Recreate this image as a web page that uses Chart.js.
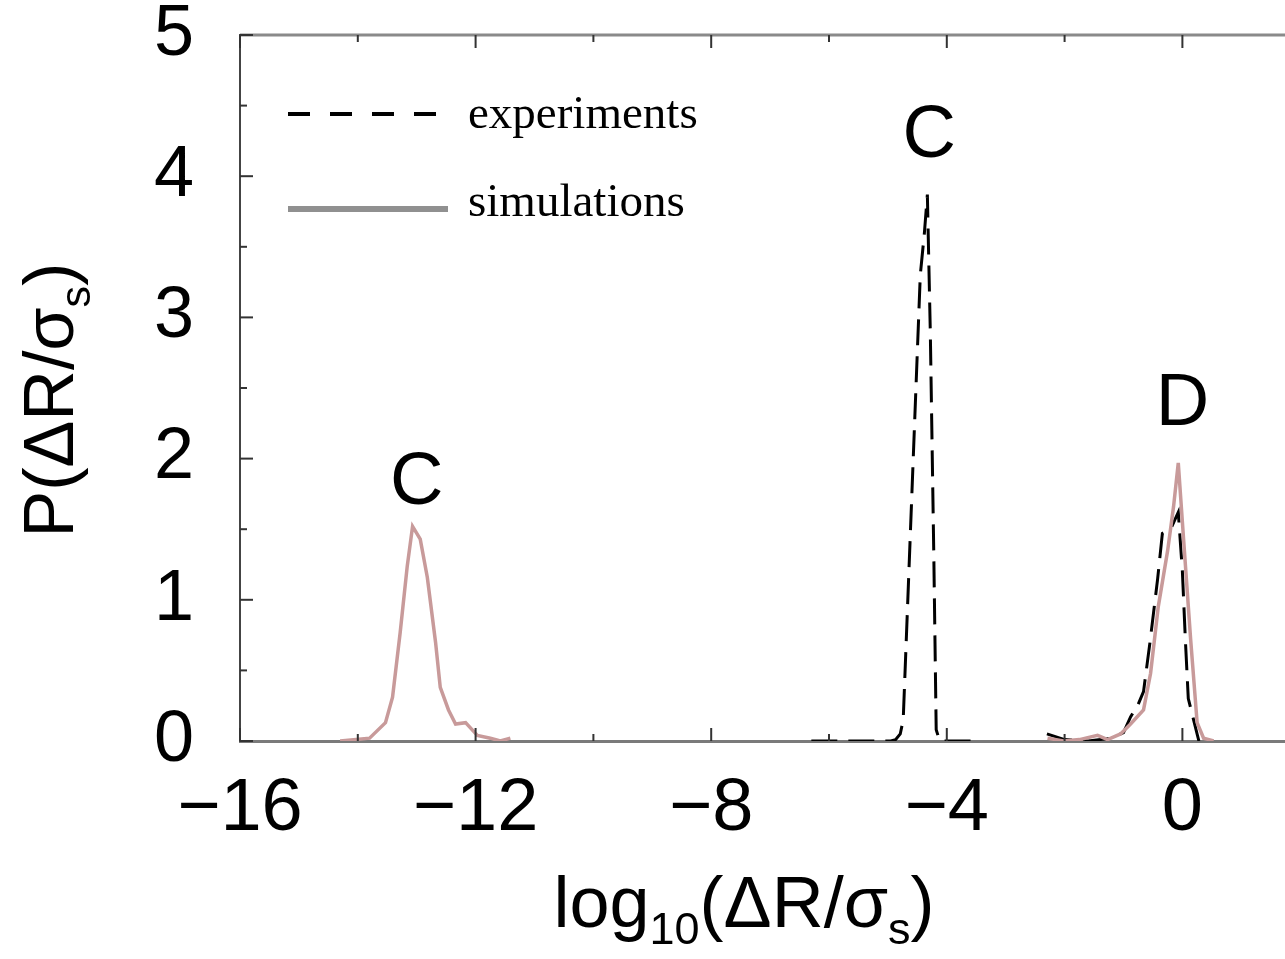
<!DOCTYPE html>
<html>
<head>
<meta charset="utf-8">
<script src="https://cdn.jsdelivr.net/npm/chart.js@4.4.1/dist/chart.umd.min.js"></script>
<style>
    html, body { margin: 0; padding: 0; background: #ffffff; }
    #wrap { width: 1285px; height: 959px; position: relative; }
</style>
</head>
<body>
<div id="wrap"><canvas id="chart"></canvas></div>
<script>
// ─── Data ───────────────────────────────────────────────────────────────────
// null in a Y array = break in the curve
const simX = [-14.3, -13.8, -13.53, -13.41, -13.28, -13.16, -13.07, -12.94, -12.82, -12.68,
              -12.6, -12.46, -12.34, -12.17, -11.97, -11.75, -11.58, -11.41,
              -7,
              -2.29, -2.02, -1.75, -1.44, -1.27, -1.05, -0.88, -0.66, -0.54, -0.41,
              -0.25, -0.15, -0.07, 0.02, 0.14, 0.25, 0.36, 0.53];
const simY = [0, 0.02, 0.13, 0.31, 0.77, 1.24, 1.52, 1.43, 1.16, 0.70,
              0.38, 0.22, 0.12, 0.13, 0.04, 0.02, 0.0, 0.02,
              null,
              0.02, 0, 0.01, 0.04, 0.01, 0.05, 0.12, 0.22, 0.48, 0.95,
              1.35, 1.66, 1.97, 1.43, 0.72, 0.13, 0.02, 0];

const expX = [-6.3, -5.5, -4.95, -4.87, -4.79, -4.74, -4.57, -4.45, -4.38, -4.33,
              -4.28, -4.22, -4.18, -4.12, -3.8, -3.57,
              -3,
              -2.3, -2.0, -1.6, -1.2, -1.0, -0.88, -0.75, -0.66, -0.55, -0.42,
              -0.34, -0.2, -0.07, 0.0, 0.05, 0.1, 0.19, 0.28];
const expY = [0, 0, 0, 0.01, 0.05, 0.15, 2.0, 3.3, 3.6, 3.87,
              2.9, 1.3, 0.08, 0, 0, 0,
              null,
              0.05, 0.01, 0.0, 0.02, 0.06, 0.17, 0.26, 0.35, 0.7, 1.15,
              1.47, 1.5, 1.62, 1.2, 0.72, 0.3, 0.15, 0];

const xTickValues = [-16, -12, -8, -4, 0];
const yTickValues = [0, 1, 2, 3, 4, 5];

const annotText = ["C", "C", "D"];
const annotX    = [-13.0, -4.3, 0.0];
const annotY    = [1.82, 4.28, 2.38];

const legendNames = ["experiments", "simulations"];

// ─── Styles ─────────────────────────────────────────────────────────────────
const SIM_COLOR = "#c89a9a";
const EXP_COLOR = "#000000";
const SANS  = "'Liberation Sans', Arial, Helvetica, sans-serif";
const SERIF = "'Liberation Serif', 'Times New Roman', serif";

function toPoints(xs, ys) {
    return xs.map((x, i) => ({ x: x, y: ys[i] }));
}

function minusSign(v) {
    return v < 0 ? "\u2212" + Math.abs(v) : String(v);
}

// text with subscripts, parts = [[text, isSub], ...]
function drawRich(ctx, parts, cx, baseY, size) {
    const subSize = Math.round(size * 0.62);
    let total = 0;
    parts.forEach(p => {
        ctx.font = `${p[1] ? subSize : size}px ${SANS}`;
        total += ctx.measureText(p[0]).width;
    });
    let x = cx - total / 2;
    ctx.textAlign = "left";
    ctx.textBaseline = "alphabetic";
    parts.forEach(p => {
        ctx.font = `${p[1] ? subSize : size}px ${SANS}`;
        ctx.fillText(p[0], x, baseY + (p[1] ? size * 0.24 : 0));
        x += ctx.measureText(p[0]).width;
    });
}

// ─── Frame, inward ticks, legend, labels ────────────────────────────────────
const decorPlugin = {
    id: "decor",
    afterDraw(chart) {
        const ctx = chart.ctx;
        const xs = chart.scales.x;
        const ys = chart.scales.y;
        const area = chart.chartArea;
        ctx.save();

        // top frame
        ctx.strokeStyle = "#8a8a8a";
        ctx.lineWidth = 3;
        ctx.beginPath();
        ctx.moveTo(area.left, area.top);
        ctx.lineTo(area.right, area.top);
        ctx.stroke();

        // inward ticks
        ctx.strokeStyle = "#333";
        ctx.lineWidth = 2;
        for (let v = xs.min; v <= xs.max; v += 2) {
            const len = (v % 4 === 0) ? 13 : 7;
            const px = xs.getPixelForValue(v);
            ctx.beginPath();
            ctx.moveTo(px, area.bottom); ctx.lineTo(px, area.bottom - len);
            ctx.moveTo(px, area.top);    ctx.lineTo(px, area.top + len);
            ctx.stroke();
        }
        for (let v = ys.min; v <= ys.max; v += 0.5) {
            const len = Number.isInteger(v) ? 13 : 7;
            const py = ys.getPixelForValue(v);
            ctx.beginPath();
            ctx.moveTo(area.left, py); ctx.lineTo(area.left + len, py);
            ctx.stroke();
        }

        // legend
        ctx.strokeStyle = EXP_COLOR;
        ctx.lineWidth = 4;
        ctx.setLineDash([22, 20]);
        ctx.beginPath();
        ctx.moveTo(288, 114); ctx.lineTo(446, 114);
        ctx.stroke();
        ctx.setLineDash([]);
        ctx.strokeStyle = "#909090";
        ctx.lineWidth = 6;
        ctx.beginPath();
        ctx.moveTo(288, 209); ctx.lineTo(448, 209);
        ctx.stroke();
        ctx.fillStyle = "#000";
        ctx.font = `47px ${SERIF}`;
        ctx.textAlign = "left";
        ctx.textBaseline = "alphabetic";
        ctx.fillText(legendNames[0], 468, 128);
        ctx.fillText(legendNames[1], 468, 216);

        // peak labels
        ctx.font = `74px ${SANS}`;
        ctx.textAlign = "center";
        ctx.textBaseline = "middle";
        annotText.forEach((t, i) => {
            ctx.fillText(t, xs.getPixelForValue(annotX[i]), ys.getPixelForValue(annotY[i]));
        });

        // axis titles
        drawRich(ctx, [["log", false], ["10", true], ["(\u0394R/\u03c3", false], ["s", true], [")", false]],
                 744, 927, 72);
        ctx.translate(73, 400);
        ctx.rotate(-Math.PI / 2);
        drawRich(ctx, [["P(\u0394R/\u03c3", false], ["s", true], [")", false]], 0, 0, 70);

        ctx.restore();
    },
};

// ─── Chart ──────────────────────────────────────────────────────────────────
const chart = new Chart(document.getElementById("chart"), {
    type: "line",
    data: {
        datasets: [
            {
                label: "simulations",
                data: toPoints(simX, simY),
                borderColor: SIM_COLOR,
                borderWidth: 3.5,
                pointRadius: 0,
                tension: 0,
                spanGaps: false,
            },
            {
                label: "experiments",
                data: toPoints(expX, expY),
                borderColor: EXP_COLOR,
                borderWidth: 3,
                borderDash: [26, 11],
                pointRadius: 0,
                tension: 0,
                spanGaps: false,
            },
        ],
    },
    options: {
        responsive: true,
        maintainAspectRatio: false,
        animation: false,
        layout: { padding: { top: 35, right: 0, left: 0, bottom: 0 } },
        plugins: {
            legend: { display: false },
            tooltip: { enabled: false },
        },
        scales: {
            x: {
                type: "linear",
                min: -16,
                max: 1.742,
                grid: { display: false, drawTicks: false },
                border: { display: true, color: "#7a7a7a", width: 3 },
                afterBuildTicks: s => { s.ticks = xTickValues.map(v => ({ value: v })); },
                afterFit: s => { s.height = 218; s.paddingLeft = 0; s.paddingRight = 0; },
                ticks: {
                    color: "#000",
                    padding: 24,
                    maxRotation: 0,
                    font: { size: 74, family: SANS },
                    callback: v => minusSign(v),
                },
            },
            y: {
                type: "linear",
                min: 0,
                max: 5,
                grid: { display: false, drawTicks: false },
                border: { display: true, color: "#444", width: 2 },
                afterBuildTicks: s => { s.ticks = yTickValues.map(v => ({ value: v })); },
                afterFit: s => { s.width = 240; s.paddingTop = 0; s.paddingBottom = 0; },
                ticks: {
                    color: "#000",
                    padding: 46,
                    font: { size: 72, family: SANS },
                    callback: v => minusSign(v),
                },
            },
        },
    },
    plugins: [decorPlugin],
});
</script>
</body>
</html>
